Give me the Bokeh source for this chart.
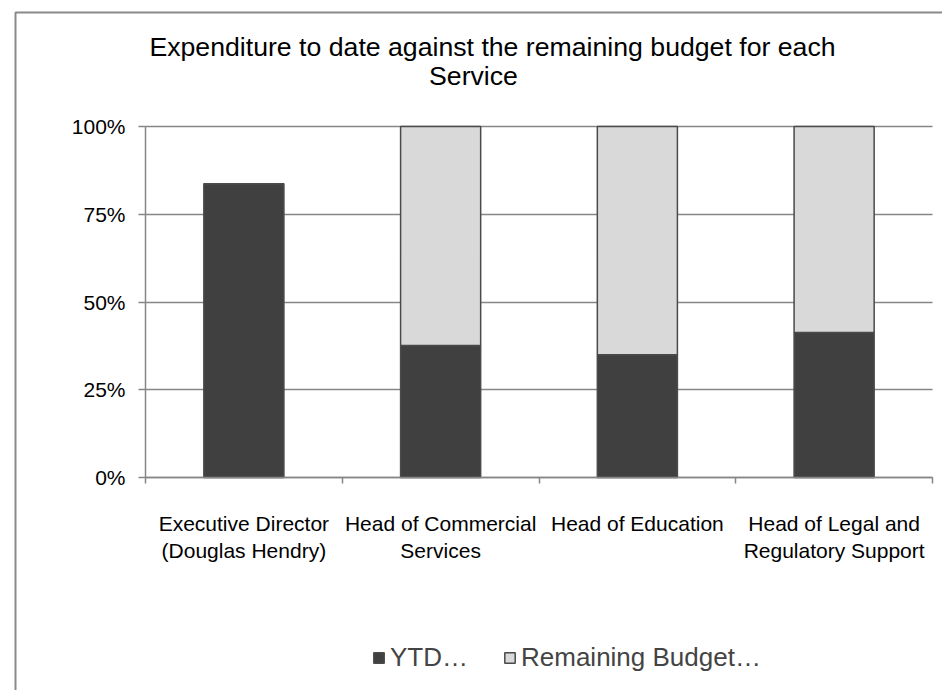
from bokeh.plotting import figure
from bokeh.models import (Range1d, FixedTicker, Label, BoxAnnotation, Legend,
                          LegendItem, ColumnDataSource)
from bokeh.embed import file_html
from bokeh.resources import INLINE

categories = ["Executive Director (Douglas Hendry)", "Head of Commercial Services",
              "Head of Education", "Head of Legal and Regulatory Support"]
category_labels = ["Executive Director\n(Douglas Hendry)", "Head of Commercial\nServices",
                   "Head of Education", "Head of Legal and\nRegulatory Support"]
ytd = [0.837, 0.376, 0.350, 0.413]
remaining = [0.0, 0.624, 0.650, 0.587]
y_ticks = [0, 0.25, 0.5, 0.75, 1.0]
y_tick_labels = ["0%", "25%", "50%", "75%", "100%"]
series_names = ["YTD\u2026", "Remaining Budget\u2026"]
title_lines = ["Expenditure to date against the remaining budget for each", "Service"]

FONT = "Liberation Sans"
GRAY = "#868686"

# ---- layout (pixels on the canvas) ----
W, H = 942, 690
PLOT_L, PLOT_R, PLOT_T, PLOT_B = 145, 932, 126, 477
n = len(categories)
kx = (PLOT_R - PLOT_L) / n          # px per category
ky = (PLOT_B - PLOT_T) / 1.0        # px per 100 %


def px2x(px):
    return (px - PLOT_L) / kx


def py2y(py):
    return (PLOT_B - py) / ky


x = [i + 0.5 for i in range(n)]
source = ColumnDataSource(dict(x=x, ytd=ytd, remaining=remaining))

p = figure(width=W, height=H,
           x_range=Range1d(px2x(0), px2x(W)), y_range=Range1d(py2y(H), py2y(0)),
           output_backend="svg", toolbar_location=None, min_border=0)
p.outline_line_color = None
p.background_fill_color = "white"
p.border_fill_color = "white"

# chart-area border
p.add_layout(BoxAnnotation(left=px2x(15), right=px2x(2000), top=py2y(12), bottom=py2y(2000),
                           fill_alpha=0, fill_color=None, line_color="#8a8a8a",
                           line_alpha=1.0, line_width=2))

p.xgrid.visible = False
p.ygrid.grid_line_color = GRAY
p.ygrid.grid_line_width = 1.5
p.ygrid.ticker = FixedTicker(ticks=y_ticks)
p.ygrid.cross_bounds = (0, n)

bars = p.vbar_stack(["ytd", "remaining"], x="x", width=0.407, source=source,
                    fill_color=["#404040", "#d9d9d9"], line_color=["#4a4a4a", "#4a4a4a"],
                    line_width=1.5)

# x axis
xa = p.xaxis[0]
xa.fixed_location = 0
xa.bounds = (0, n)
xa.ticker = FixedTicker(ticks=x, minor_ticks=list(range(n + 1)))
xa.major_label_overrides = {xi: lab for xi, lab in zip(x, category_labels)}
xa.major_tick_line_color = None
xa.major_tick_out = 0
xa.major_tick_in = 0
xa.minor_tick_line_color = GRAY
xa.minor_tick_line_width = 1.5
xa.minor_tick_out = 6
xa.minor_tick_in = 0
xa.axis_line_color = GRAY
xa.axis_line_width = 1.5
xa.major_label_text_font = FONT
xa.major_label_text_font_size = "21px"
xa.major_label_text_color = "black"
xa.major_label_standoff = 28

# y axis
ya = p.yaxis[0]
ya.fixed_location = 0
ya.bounds = (0, 1)
ya.ticker = FixedTicker(ticks=y_ticks)
ya.major_label_overrides = {t: lab for t, lab in zip(y_ticks, y_tick_labels)}
ya.major_tick_line_color = GRAY
ya.major_tick_line_width = 1.5
ya.major_tick_out = 7
ya.major_tick_in = 0
ya.minor_tick_line_color = None
ya.axis_line_color = GRAY
ya.axis_line_width = 1.5
ya.major_label_text_font = FONT
ya.major_label_text_font_size = "21px"
ya.major_label_text_color = "black"
ya.major_label_standoff = 13

# title (two centred lines)
p.add_layout(Label(x=px2x(492), y=py2y(46), text=title_lines[0],
                   text_align="center", text_baseline="alphabetic", text_font=FONT,
                   text_font_size="20pt", text_color="black"))
p.add_layout(Label(x=px2x(473), y=py2y(75), text=title_lines[1],
                   text_align="center", text_baseline="alphabetic", text_font=FONT,
                   text_font_size="20pt", text_color="black"))

legend = Legend(items=[LegendItem(label=series_names[i], renderers=[bars[i]]) for i in range(2)],
                orientation="horizontal", location=(372, H - 673), padding=0, margin=0,
                spacing=35, glyph_width=13, glyph_height=13, label_standoff=5,
                label_text_font=FONT, label_text_font_size="26px",
                border_line_color=None, background_fill_alpha=0)
p.add_layout(legend)

open("out.html", "w").write(file_html(p, INLINE))
